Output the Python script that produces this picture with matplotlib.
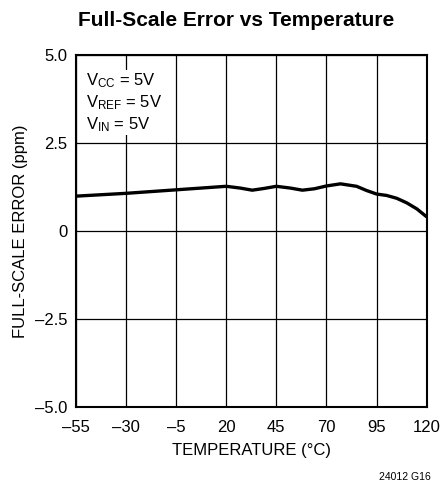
import numpy as np
import matplotlib
matplotlib.use('Agg')
from matplotlib import pyplot as plt

# curve
temp = [-55, -30, -5, 20, 27, 33, 39, 45, 52, 58, 64, 70, 77, 85, 90, 95, 100, 105, 110, 115, 120]
error = [0.99, 1.07, 1.17, 1.27, 1.22, 1.16, 1.21, 1.27, 1.22, 1.16, 1.20, 1.28, 1.34, 1.27, 1.15, 1.05, 1.01, 0.93, 0.80, 0.63, 0.40]

xticks = [-55, -30, -5, 20, 45, 70, 95, 120]
xlabels = ['\u201355', '\u201330', '\u20135', '20', '45', '70', '95', '120']
yticks = [-5.0, -2.5, 0, 2.5, 5.0]
ylabels = ['\u20135.0', '\u20132.5', '0', '2.5', '5.0']

font = ['Liberation Sans', 'DejaVu Sans']
plt.rcParams['font.family'] = font
plt.rcParams['mathtext.fontset'] = 'custom'
plt.rcParams['mathtext.rm'] = 'Liberation Sans'
plt.rcParams['mathtext.it'] = 'Liberation Sans'

fig = plt.figure(figsize=(4.4, 4.91), dpi=100)
ax = fig.add_axes([0.172, 0.171, 0.798, 0.717])

ax.plot(temp, error, color='black', linewidth=2.4, solid_capstyle='butt',
        solid_joinstyle='round', zorder=3)

ax.set_xlim(-55, 120)
ax.set_ylim(-5, 5)
ax.set_xticks(xticks)
ax.set_xticklabels(xlabels)
ax.set_yticks(yticks)
ax.set_yticklabels(ylabels)
ax.tick_params(length=0, labelsize=12, pad=6)
ax.tick_params(axis='x', pad=9)
ax.grid(True, color='black', linewidth=0.9)
for s in ax.spines.values():
    s.set_linewidth(1.5)

ax.set_xlabel('TEMPERATURE (\u00b0C)', fontsize=12, labelpad=6)
ax.set_ylabel('FULL-SCALE ERROR (ppm)', fontsize=12, labelpad=5)

ax.text(-50, 4.55, 'V$_{CC}$ = 5V\nV$_{REF}$ = 5V\nV$_{IN}$ = 5V',
        fontsize=12, va='top', ha='left', linespacing=1.25,
        bbox=dict(facecolor='white', edgecolor='none', pad=1), zorder=4)

fig.text(0.537, 0.958, 'Full-Scale Error vs Temperature', ha='center', va='center',
         fontsize=15, fontweight='bold')
fig.text(0.978, 0.028, '24012 G16', ha='right', va='center', fontsize=7.5)

fig.savefig('out.png', dpi=100)
